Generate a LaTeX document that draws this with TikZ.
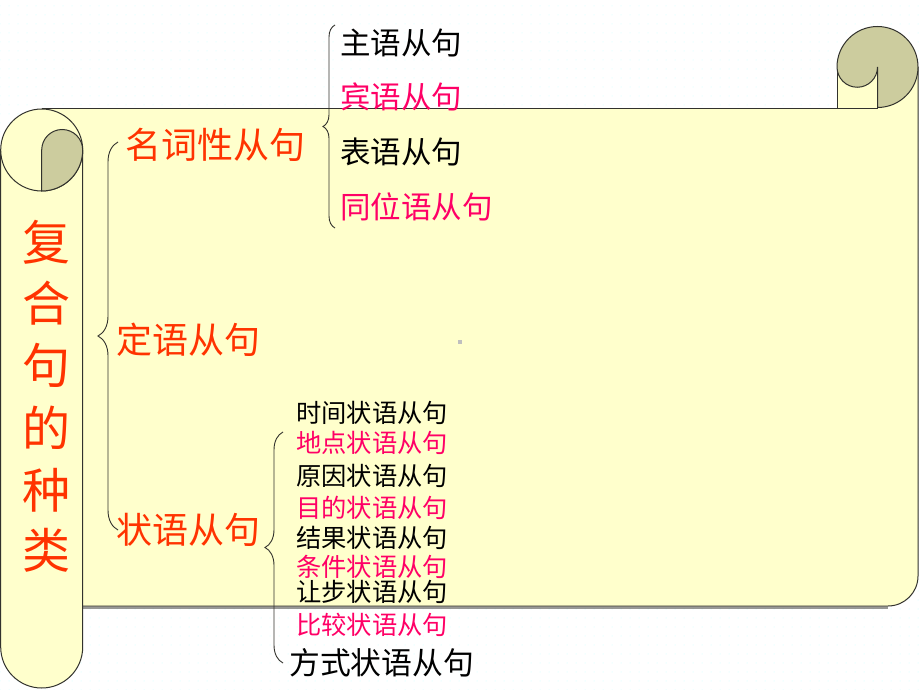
\documentclass[tikz,border=0pt]{standalone}
\usepackage{fontspec}
\newfontfamily\cjk{Noto Sans CJK SC}
\usetikzlibrary{decorations.pathreplacing,patterns.meta}
\definecolor{scrollyellow}{RGB}{255,255,204}
\definecolor{olivefill}{RGB}{204,204,158}
\definecolor{edgecol}{RGB}{50,50,45}
\definecolor{headred}{RGB}{255,51,0}
\definecolor{itempink}{RGB}{255,0,102}
\tikzset{
  outline/.style={draw=edgecol, line width=1pt},
  head/.style={anchor=west, inner sep=0pt, text=headred, font=\cjk\fontsize{36}{36}\selectfont},
  title/.style={inner sep=0pt, text=headred, font=\cjk\fontsize{48}{48}\selectfont},
  nitem/.style={anchor=west, inner sep=0pt, font=\cjk\fontsize{30.5}{30.5}\selectfont},
  aitem/.style={anchor=west, inner sep=0pt, font=\cjk\fontsize{25.3}{25.3}\selectfont},
  curly/.style={draw=edgecol, line width=0.9pt, decorate, decoration={brace, amplitude=#1}},
}
\begin{document}
\begin{tikzpicture}[x=1pt,y=1pt]
\useasboundingbox (0,0) rectangle (920,-690);
\fill[white] (0,0) rectangle (920,-690);
\fill[pattern={Dots[distance=9pt,radius=0.5pt]}, pattern color=cyan!20] (0,0) rectangle (920,-690);
% main body
\fill[scrollyellow] (41.7,-108.5) -- (837,-108.5) -- (837,-67) -- (918,-67) -- (918,-576)
  arc[start angle=0,end angle=-90,radius=30] -- (41.7,-606) -- cycle;
\draw[edgecol, line width=2pt, opacity=0.5] (83,-607.5) -- (888,-607.5);
\draw[outline] (41.7,-108.5) -- (878,-108.5);
\draw[outline] (837,-108.5) -- (837,-67);
\draw[outline] (918,-67) -- (918,-576) arc[start angle=0,end angle=-90,radius=30] -- (83,-606);
% top-right curl
\filldraw[outline, fill=olivefill] (837,-67) arc[start angle=180,end angle=-90,radius=40.5]
  -- (877.5,-67) arc[start angle=0,end angle=-180,radius=20.25] -- cycle;
% left scroll
\filldraw[outline, fill=scrollyellow] (0.7,-150) -- (0.7,-647) arc[start angle=180,end angle=360,radius=41] -- (82.7,-150);
\filldraw[outline, fill=scrollyellow] (41.7,-150) circle[radius=41];
\filldraw[outline, fill=olivefill] (41.7,-150) arc[start angle=180,end angle=0,radius=20.5]
  arc[start angle=0,end angle=-90,radius=41] -- cycle;
% tiny dot
\fill[black!25] (458,-340) rectangle (462,-344);
% title
\node[title] (t1) at (46,-242) {复};
\node[title] (t2) at (46,-303) {合};
\node[title] (t3) at (46,-365) {句};
\node[title] (t4) at (46,-428) {的};
\node[title] (t5) at (46,-490) {种};
\node[title] (t6) at (46,-550) {类};
% headers
\node[head] (mc) at (125,-145) {名词性从句};
\node[head] (dy) at (116,-340) {定语从句};
\node[head] (zy) at (116,-530) {状语从句};
% braces
\coordinate (b1t) at (118,-142);
\coordinate (b1b) at (118,-530);
\draw[curly=20pt] (b1b) -- (b1t);
\coordinate (b2t) at (335,-25);
\coordinate (b2b) at (335,-228);
\draw[curly=12pt] (b2b) -- (b2t);
\coordinate (b3t) at (283,-432);
\coordinate (b3b) at (283,-663);
\draw[curly=18pt] (b3b) -- (b3t);
% noun clause items
\node[nitem] (n1) at (340,-43) {主语从句};
\node[nitem, text=itempink] (n2) at (340,-97) {宾语从句};
\node[nitem] (n3) at (340,-152) {表语从句};
\node[nitem, text=itempink] (n4) at (340,-207) {同位语从句};
% adverbial items
\node[aitem] (a1) at (296,-413) {时间状语从句};
\node[aitem, text=itempink] (a2) at (296,-443) {地点状语从句};
\node[aitem] (a3) at (296,-476) {原因状语从句};
\node[aitem, text=itempink] (a4) at (296,-508) {目的状语从句};
\node[aitem] (a5) at (296,-538) {结果状语从句};
\node[aitem, text=itempink] (a6) at (296,-567) {条件状语从句};
\node[aitem] (a7) at (296,-592) {让步状语从句};
\node[aitem, text=itempink] (a8) at (296,-625) {比较状语从句};
\node[anchor=west, inner sep=0pt, font=\cjk\fontsize{30.8}{30.8}\selectfont] (a9) at (289,-663) {方式状语从句};
\end{tikzpicture}
\end{document}
